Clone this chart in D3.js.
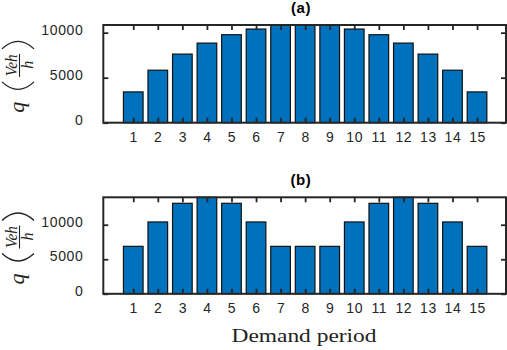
<!DOCTYPE html>
<html>
<head>
<meta charset="utf-8">
<script src="https://cdn.jsdelivr.net/npm/d3@7"></script>
<style>
    body { margin: 0; background: #fff; }
    svg { display: block; }
    .tick text { font-family: "Liberation Sans", Arial, sans-serif; font-size: 14px; fill: #262626; letter-spacing: 0.6px; }
    .tick line { stroke: #262626; stroke-width: 1.8; }
    .domain { display: none; }
    .box { fill: none; stroke: #262626; stroke-width: 2; }
    .bar { fill: #0072BD; stroke: #111; stroke-width: 1.2; }
    .title { font-family: "Liberation Sans", Arial, sans-serif; font-size: 15px; font-weight: bold; fill: #000; text-anchor: middle; letter-spacing: 0.6px; }
    .math { font-family: "Liberation Serif", "DejaVu Serif", serif; font-style: italic; fill: #222; }
    .paren { fill: none; stroke: #222; stroke-width: 1.3; }
    .xlabel { font-family: "Liberation Serif", "DejaVu Serif", serif; font-size: 19px; fill: #222; text-anchor: middle; }
</style>
</head>
<body>
<svg id="chart" width="507" height="350"></svg>
<script>
// demand per period
const periods = [1, 2, 3, 4, 5, 6, 7, 8, 9, 10, 11, 12, 13, 14, 15];
const demand_a = [3420, 5830, 7620, 8840, 9770, 10400, 10850, 10850, 10850, 10400, 9770, 8840, 7620, 5830, 3420];
const demand_b = [6870, 10400, 13100, 13970, 13100, 10400, 6870, 6870, 6870, 10400, 13100, 13970, 13100, 10400, 6870];
const y_ticks = [0, 5000, 10000];
const titles = ["(a)", "(b)"];
const x_title = "Demand period";

let svg = d3.select("#chart");

let xScale = d3.scaleLinear()
    .domain([-0.22, 16.18])
    .range([103.3, 506]);

let bar_w = xScale(0.8) - xScale(0);

let panels = [
    {data: demand_a, title: titles[0], top: 25, bottom: 122.7, ymax: 10850},
    {data: demand_b, title: titles[1], top: 197.3, bottom: 293.8, ymax: 13970}
];

function drawPanel(p) {
    let yScale = d3.scaleLinear()
        .domain([0, p.ymax])
        .range([p.bottom, p.top]);

    let g = svg.append("g");

    g.append("g")
        .selectAll(".bar")
        .data(p.data)
        .enter()
        .append("rect")
        .attr("class", "bar")
        .attr("x", (d, i) => xScale(periods[i]) - bar_w / 2)
        .attr("y", d => yScale(d))
        .attr("width", bar_w)
        .attr("height", d => yScale(0) - yScale(d));

    // bottom axis with labels
    g.append("g")
        .attr("transform", "translate(0," + p.bottom + ")")
        .call(d3.axisBottom(xScale).tickValues(periods).tickSizeInner(-5).tickSizeOuter(0).tickPadding(9));

    // top ticks, no labels
    g.append("g")
        .attr("transform", "translate(0," + p.top + ")")
        .call(d3.axisTop(xScale).tickValues(periods).tickSizeInner(-5).tickSizeOuter(0).tickFormat(""));

    g.append("g")
        .attr("transform", "translate(" + xScale.range()[0] + ",0)")
        .call(d3.axisLeft(yScale).tickValues(y_ticks).tickFormat(d3.format("d"))
            .tickSizeInner(-5).tickSizeOuter(0).tickPadding(20))
        .selectAll("text")
        .attr("dy", "0.1em");

    g.append("g")
        .attr("transform", "translate(" + xScale.range()[1] + ",0)")
        .call(d3.axisRight(yScale).tickValues(y_ticks).tickSizeInner(-5).tickSizeOuter(0).tickFormat(""));

    g.append("rect")
        .attr("class", "box")
        .attr("x", xScale.range()[0])
        .attr("y", p.top)
        .attr("width", xScale.range()[1] - xScale.range()[0])
        .attr("height", p.bottom - p.top);

    g.append("text")
        .attr("class", "title")
        .attr("x", 301)
        .attr("y", p.top - 12)
        .text(p.title);

    // y label: q (Veh / h), rotated
    let cy = (p.top + p.bottom) / 2;
    let lab = g.append("g")
        .attr("transform", "translate(0," + cy + ") rotate(-90)");

    lab.append("text")
        .attr("class", "math")
        .attr("x", -39)
        .attr("y", 24)
        .attr("font-size", 22)
        .text("q");

    lab.append("path")
        .attr("class", "paren")
        .attr("d", "M-8,2 Q-23,18 -8,34");

    lab.append("path")
        .attr("class", "paren")
        .attr("d", "M25,2 Q40,18 25,34");

    lab.append("text")
        .attr("class", "math")
        .attr("x", 8.5)
        .attr("y", 17)
        .attr("font-size", 17)
        .attr("text-anchor", "middle")
        .attr("textLength", 22)
        .attr("lengthAdjust", "spacingAndGlyphs")
        .text("Veh");

    lab.append("line")
        .attr("x1", -3)
        .attr("x2", 20)
        .attr("y1", 19.5)
        .attr("y2", 19.5)
        .attr("stroke", "#222")
        .attr("stroke-width", 1.1);

    lab.append("text")
        .attr("class", "math")
        .attr("x", 9)
        .attr("y", 32.5)
        .attr("font-size", 16)
        .attr("text-anchor", "middle")
        .text("h");
}

panels.forEach(drawPanel);

svg.append("text")
    .attr("class", "xlabel")
    .attr("x", 304)
    .attr("y", 342)
    .attr("textLength", 145)
    .attr("lengthAdjust", "spacingAndGlyphs")
    .text(x_title);
</script>
</body>
</html>
